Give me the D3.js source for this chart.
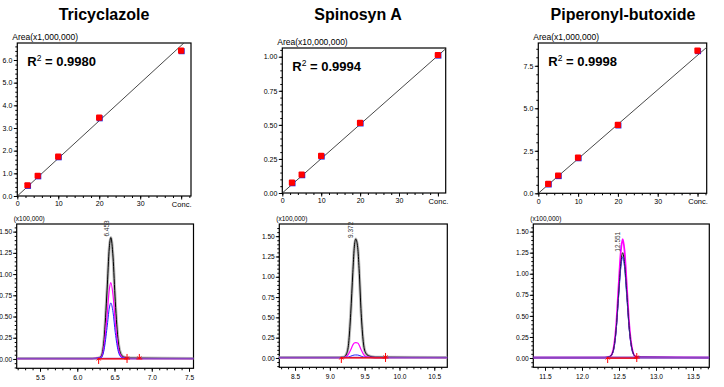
<!DOCTYPE html>
<html>
<head>
<meta charset="utf-8">
<title>Calibration curves</title>
<script src="https://d3js.org/d3.v7.min.js"></script>
<style>
  body { margin: 0; background: #fff; }
  svg text { font-family: 'Liberation Sans', Arial, sans-serif; fill: #000; }
  .title { font-size: 16px; font-weight: bold; }
  .tick text { font-size: 7px; }
  .chrom .tick text { font-size: 6.6px; }
  .unit { font-size: 8.5px; }
  .unit2 { font-size: 6.5px; }
  .r2 { font-size: 13px; font-weight: bold; }
  .rt { font-size: 6.5px; fill: #333; }
</style>
</head>
<body>
<div id="chart"></div>
<script>

// compounds and fit results
var compounds = ["Tricyclazole", "Spinosyn A", "Piperonyl-butoxide"];
var r2Values = ["0.9980", "0.9994", "0.9998"];
var areaUnits = ["Area(x1,000,000)", "Area(x10,000,000)", "Area(x1,000,000)"];

// calibration levels and measured areas
var calConc = [2.5, 5, 10, 20, 40];
var calAreaTricyclazole = [0.47, 0.89, 1.73, 3.45, 6.41];
var calAreaSpinosyn = [0.075, 0.134, 0.271, 0.514, 1.012];
var calAreaPiperonyl = [0.55, 1.04, 2.09, 4.02, 8.39];
var calSlope = [0.166, 0.0252, 0.203];
var calIntercept = [0, 0, 0];
var calXTicks = [0, 10, 20, 30, 40];
var calXLabels = ["0", "10", "20", "30", "Conc."];
var calYTicks = [[0, 1, 2, 3, 4, 5, 6], [0, 0.25, 0.5, 0.75, 1], [0, 2.5, 5, 7.5]];
var calYFormat = [".1f", ".2f", ".1f"];

// chromatograms, intensity (x100,000)
var peakRT = ["6.453", "9.372", "12.551"];
var rtTricyclazole = [5.19, 6.20, 6.28, 6.32, 6.36, 6.40, 6.43, 6.45, 6.48, 6.51, 6.55, 6.59, 6.63, 6.70, 7.56];
var blackTricyclazole = [0.005, 0.005, 0.01, 0.03, 0.23, 0.81, 1.31, 1.43, 1.20, 0.68, 0.20, 0.05, 0.02, 0.01, 0.005];
var magentaTricyclazole = [0.005, 0.005, 0.01, 0.02, 0.15, 0.51, 0.82, 0.90, 0.75, 0.43, 0.13, 0.03, 0.01, 0.005, 0.005];
var blueTricyclazole = [0.005, 0.005, 0.01, 0.015, 0.11, 0.37, 0.60, 0.66, 0.55, 0.31, 0.09, 0.02, 0.01, 0.005, 0.005];

var rtSpinosyn = [8.27, 9.10, 9.20, 9.24, 9.27, 9.30, 9.33, 9.35, 9.372, 9.40, 9.42, 9.45, 9.48, 9.51, 9.56, 9.65, 10.69];
var blackSpinosyn = [0.005, 0.005, 0.01, 0.05, 0.18, 0.55, 1.05, 1.35, 1.465, 1.36, 1.10, 0.55, 0.20, 0.07, 0.025, 0.01, 0.005];
var magentaSpinosyn = [0.005, 0.005, 0.005, 0.02, 0.05, 0.10, 0.16, 0.185, 0.19, 0.185, 0.16, 0.10, 0.05, 0.02, 0.01, 0.005, 0.005];
var blueSpinosyn = [0.005, 0.005, 0.005, 0.008, 0.012, 0.022, 0.032, 0.036, 0.037, 0.036, 0.032, 0.022, 0.012, 0.008, 0.005, 0.005, 0.005];

var rtPiperonyl = [11.34, 12.30, 12.38, 12.42, 12.46, 12.495, 12.525, 12.55, 12.575, 12.605, 12.64, 12.68, 12.72, 12.80, 13.72];
var magentaPiperonyl = [0.005, 0.005, 0.02, 0.09, 0.37, 0.86, 1.27, 1.41, 1.27, 0.86, 0.38, 0.10, 0.02, 0.01, 0.005];
var blackPiperonyl = [0.005, 0.005, 0.02, 0.08, 0.33, 0.76, 1.12, 1.25, 1.12, 0.77, 0.34, 0.09, 0.02, 0.01, 0.005];
var bluePiperonyl = [0.005, 0.005, 0.02, 0.07, 0.31, 0.73, 1.08, 1.20, 1.08, 0.73, 0.32, 0.08, 0.02, 0.01, 0.005];

// integration start / end marks
var intTricyclazole = [6.287, 6.668, 6.833];
var intSpinosyn = [9.165, 9.80];
var intPiperonyl = [12.347, 12.74];
var chromYTicks = [0, 0.25, 0.5, 0.75, 1, 1.25, 1.5];

var svg = d3.select("#chart").append("svg")
  .attr("width", 724)
  .attr("height", 387);

// panel boxes (pixels) and visible ranges
var calBox = [
  { left: 17.3, right: 191, top: 43, bottom: 196, xMax: 42.4, yMax: 6.75, yMinor: 0.2, cx: 104 },
  { left: 282.3, right: 445.7, top: 48, bottom: 193, xMax: 42.0, yMax: 1.064, yMinor: 0.05, cx: 358 },
  { left: 538.3, right: 706.7, top: 43, bottom: 193.3, xMax: 42.3, yMax: 8.84, yMinor: 0.5, cx: 623 }
];
var chromBox = [
  { left: 16.7, right: 193.5, top: 224, bottom: 368.3, x0: 5.187, x1: 7.56, y0: -0.11, y1: 1.59, xt0: 5.5, xt1: 7.5 },
  { left: 279.3, right: 447.3, top: 224, bottom: 367.3, x0: 8.274, x1: 10.687, y0: -0.115, y1: 1.65, xt0: 8.5, xt1: 10.5 },
  { left: 533.3, right: 709.3, top: 224, bottom: 367.3, x0: 11.342, x1: 13.72, y0: -0.11, y1: 1.59, xt0: 11.5, xt1: 13.5 }
];

var calAreas = [calAreaTricyclazole, calAreaSpinosyn, calAreaPiperonyl];
var chromData = [
  { rt: rtTricyclazole, black: blackTricyclazole, magenta: magentaTricyclazole, blue: blueTricyclazole, marks: intTricyclazole },
  { rt: rtSpinosyn, black: blackSpinosyn, magenta: magentaSpinosyn, blue: blueSpinosyn, marks: intSpinosyn },
  { rt: rtPiperonyl, black: blackPiperonyl, magenta: magentaPiperonyl, blue: bluePiperonyl, marks: intPiperonyl }
];

compounds.forEach(function (name, i) {
  drawCal(i);
  drawChrom(i);
});

function drawCal(i) {
  var b = calBox[i];
  var x = d3.scaleLinear().domain([0, b.xMax]).range([b.left, b.right]);
  var y = d3.scaleLinear().domain([0, b.yMax]).range([b.bottom, b.top]);
  var g = svg.append("g");

  svg.append("text").attr("class", "title")
    .attr("x", b.cx).attr("y", 20)
    .attr("text-anchor", "middle")
    .text(compounds[i]);

  g.append("clipPath").attr("id", "calclip" + i)
    .append("rect")
    .attr("x", b.left).attr("y", b.top)
    .attr("width", b.right - b.left).attr("height", b.bottom - b.top);

  // axes
  g.append("g").attr("transform", "translate(" + b.left + ",0)")
    .call(d3.axisLeft(y).tickValues(d3.range(0, b.yMax, b.yMinor)).tickSize(2).tickFormat(""))
    .call(function (a) { a.select(".domain").remove(); });
  g.append("g").attr("transform", "translate(" + b.left + ",0)")
    .call(d3.axisLeft(y).tickValues(calYTicks[i]).tickSize(3.5).tickPadding(1.5).tickFormat(d3.format(calYFormat[i])))
    .call(function (a) { a.select(".domain").remove(); });
  g.append("g").attr("transform", "translate(0," + b.bottom + ")")
    .call(d3.axisBottom(x).tickValues(d3.range(0, b.xMax, 2)).tickSize(2).tickFormat(""))
    .call(function (a) { a.select(".domain").remove(); });
  g.append("g").attr("transform", "translate(0," + b.bottom + ")")
    .call(d3.axisBottom(x).tickValues(calXTicks).tickSize(3.5).tickPadding(2)
      .tickFormat(function (d, k) { return calXLabels[k]; }))
    .call(function (a) { a.select(".domain").remove(); });
  g.selectAll(".tick text").filter(function (d) { return d === 40; }).style("font-size", "7.5px");

  g.append("rect")
    .attr("x", b.left).attr("y", b.top)
    .attr("width", b.right - b.left).attr("height", b.bottom - b.top)
    .attr("fill", "none").attr("stroke", "#000").attr("stroke-width", 1.2);

  g.append("text").attr("class", "unit")
    .attr("x", b.left - 5).attr("y", b.top - 3)
    .text(areaUnits[i]);

  // fitted line
  var fx = [0, b.xMax * 1.2];
  g.append("line")
    .attr("clip-path", "url(#calclip" + i + ")")
    .attr("x1", x(fx[0])).attr("y1", y(calSlope[i] * fx[0] + calIntercept[i]))
    .attr("x2", x(fx[1])).attr("y2", y(calSlope[i] * fx[1] + calIntercept[i]))
    .attr("stroke", "#333").attr("stroke-width", 0.9);

  // points
  var pts = g.selectAll(".pt").data(calConc).enter().append("g").attr("class", "pt")
    .attr("transform", function (d, k) { return "translate(" + x(d) + "," + y(calAreas[i][k]) + ")"; });
  pts.append("rect").attr("x", -2.5).attr("y", -2.5).attr("width", 6).attr("height", 6).attr("fill", "#2020e0");
  pts.append("rect").attr("x", -3.2).attr("y", -3.2).attr("width", 6.2).attr("height", 6.2).attr("rx", 1).attr("fill", "#ff0000");

  var t = g.append("text").attr("class", "r2")
    .attr("x", b.left + 10).attr("y", b.top + 23);
  t.append("tspan").text("R");
  t.append("tspan").attr("dy", -5).style("font-size", "8.5px").style("font-weight", "normal").text("2");
  t.append("tspan").attr("dy", 5).text(" = " + r2Values[i]);
}

function drawChrom(i) {
  var b = chromBox[i];
  var d = chromData[i];
  var x = d3.scaleLinear().domain([b.x0, b.x1]).range([b.left, b.right]);
  var y = d3.scaleLinear().domain([b.y0, b.y1]).range([b.bottom, b.top]);
  var g = svg.append("g").attr("class", "chrom");

  g.append("clipPath").attr("id", "chclip" + i)
    .append("rect")
    .attr("x", b.left).attr("y", b.top)
    .attr("width", b.right - b.left).attr("height", b.bottom - b.top);

  g.append("g").attr("transform", "translate(" + b.left + ",0)")
    .call(d3.axisLeft(y).tickValues(d3.range(-0.1, b.y1, 0.05)).tickSize(2).tickFormat(""))
    .call(function (a) { a.select(".domain").remove(); });
  g.append("g").attr("transform", "translate(" + b.left + ",0)")
    .call(d3.axisLeft(y).tickValues(chromYTicks).tickSize(3.5).tickPadding(1).tickFormat(d3.format(".2f")))
    .call(function (a) { a.select(".domain").remove(); });
  g.append("g").attr("transform", "translate(0," + b.bottom + ")")
    .call(d3.axisBottom(x).tickValues(d3.range(Math.ceil(b.x0 * 10) / 10, b.x1, 0.1)).tickSize(2).tickFormat(""))
    .call(function (a) { a.select(".domain").remove(); });
  g.append("g").attr("transform", "translate(0," + b.bottom + ")")
    .call(d3.axisBottom(x).tickValues(d3.range(b.xt0, b.xt1 + 0.01, 0.5)).tickSize(3.5).tickPadding(4).tickFormat(d3.format(".1f")))
    .call(function (a) { a.select(".domain").remove(); });

  g.append("rect")
    .attr("x", b.left).attr("y", b.top)
    .attr("width", b.right - b.left).attr("height", b.bottom - b.top)
    .attr("fill", "none").attr("stroke", "#000").attr("stroke-width", 1.2);

  g.append("text").attr("class", "unit2")
    .attr("x", b.left - 3).attr("y", b.top - 3)
    .text("(x100,000)");

  var plot = g.append("g").attr("clip-path", "url(#chclip" + i + ")");
  function trace(vals, color, w) {
    var line = d3.line()
      .x(function (v, k) { return x(d.rt[k]); })
      .y(function (v) { return y(v); })
      .curve(d3.curveMonotoneX);
    plot.append("path").datum(vals)
      .attr("d", line).attr("fill", "none")
      .attr("stroke", color).attr("stroke-width", w);
  }
  if (i === 2) {
    trace(d.blue, "#3030ff", 1);
    trace(d.magenta, "#ff00ff", 1.8);
    trace(d.black, "#000", 1);
    trace(d.blue, "#5050d0", 0.6);
  } else {
    trace(d.black, "#b8b8b8", 3);
    trace(d.black, "#000", 1);
    trace(d.magenta, "#ff00ff", 1.2);
    trace(d.blue, "#2020ff", 1);
  }
  // flat baseline of overlaid traces
  plot.append("line")
    .attr("x1", x(b.x0)).attr("x2", x(b.x1))
    .attr("y1", y(0.005)).attr("y2", y(0.005))
    .attr("stroke", "#8a44c0").attr("stroke-width", i === 2 ? 2.4 : 1.4);

  // integration baseline and marks
  var m = d.marks;
  plot.append("line")
    .attr("x1", x(m[0])).attr("x2", x(m[1]))
    .attr("y1", y(0)).attr("y2", y(0))
    .attr("stroke", "#ff0000").attr("stroke-width", 1.2);
  m.forEach(function (t, k) {
    var px = x(t), py = y(0), p;
    if (k === 0) {
      p = "M" + px + "," + (py + 5) + "V" + (py - 1) + "M" + (px - 2) + "," + (py + 1.5) + "L" + px + "," + (py - 1) + "L" + (px + 2) + "," + (py + 1.5);
    } else {
      p = "M" + px + "," + (py - 5) + "V" + (py + (k === 1 ? 4 : 0)) + "M" + (px - 2) + "," + (py - 2.5) + "L" + px + "," + py + "L" + (px + 2) + "," + (py - 2.5) +
        "M" + (px - 3) + "," + py + "H" + (px + 3);
    }
    plot.append("path").attr("d", p).attr("fill", "none").attr("stroke", "#ff0000").attr("stroke-width", 1);
  });

  // retention time label at apex of the black trace
  var top = d3.max(d.black);
  var ax = x(+peakRT[i]);
  g.append("text").attr("class", "rt")
    .attr("transform", "translate(" + (ax - 2.5) + "," + (y(top) - 1) + ") rotate(-90)")
    .text(peakRT[i]);
}

</script>
</body>
</html>
